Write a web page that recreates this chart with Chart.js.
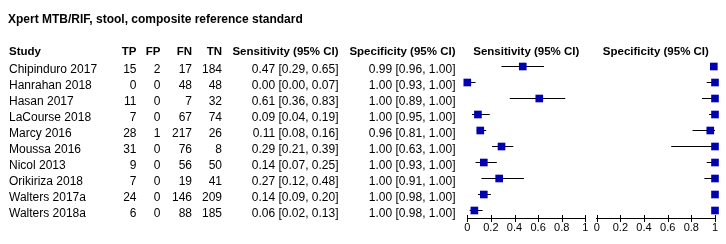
<!DOCTYPE html>
<html><head><meta charset="utf-8">
<script src="https://cdn.jsdelivr.net/npm/chart.js@4/dist/chart.umd.min.js"></script>
<style>
html,body{margin:0;padding:0;background:#fff;}
#wrap{position:relative;width:726px;height:244px;overflow:hidden;font-family:"Liberation Sans",Arial,sans-serif;color:#000;background:#fff;}
canvas{position:absolute;left:0;top:0;}
.t{position:absolute;white-space:nowrap;font-size:12px;line-height:16px;height:16px;}
</style></head><body>
<div id="wrap">
<canvas id="cs" width="726" height="244"></canvas>
<canvas id="cp" width="726" height="244"></canvas>
</div>
<script>
const title = "Xpert MTB/RIF, stool, composite reference standard";
const headers = ["Study", "TP", "FP", "FN", "TN", "Sensitivity (95% CI)", "Specificity (95% CI)"];
const plotHeaders = ["Sensitivity (95% CI)", "Specificity (95% CI)"];
const studies = ["Chipinduro 2017","Hanrahan 2018","Hasan 2017","LaCourse 2018","Marcy 2016","Moussa 2016","Nicol 2013","Orikiriza 2018","Walters 2017a","Walters 2018a"];
const TP = [15,0,11,7,28,31,9,7,24,6];
const FP = [2,0,0,0,1,0,0,0,0,0];
const FN = [17,48,7,67,217,76,56,19,146,88];
const TN = [184,48,32,74,26,8,50,41,209,185];
const sens   = [0.47,0.00,0.61,0.09,0.11,0.29,0.14,0.27,0.14,0.06];
const sensLo = [0.29,0.00,0.36,0.04,0.08,0.21,0.07,0.12,0.09,0.02];
const sensHi = [0.65,0.07,0.83,0.19,0.16,0.39,0.25,0.48,0.20,0.13];
const spec   = [0.99,1.00,1.00,1.00,0.96,1.00,1.00,1.00,1.00,1.00];
const specLo = [0.96,0.93,0.89,0.95,0.81,0.63,0.93,0.91,0.98,0.98];
const specHi = [1.00,1.00,1.00,1.00,1.00,1.00,1.00,1.00,1.00,1.00];
const xTicks = [0,0.2,0.4,0.6,0.8,1];
const xTickLabels = ["0","0.2","0.4","0.6","0.8","1"];

const fmt = v => v.toFixed(2);
const ciText = (e,l,h) => fmt(e) + " [" + fmt(l) + ", " + fmt(h) + "]";

const crossTicks = {
  id: 'crossTicks',
  afterDraw(chart) {
    const xs = chart.scales.x, ctx = chart.ctx;
    const y = Math.round(xs.top) ;
    ctx.save();
    ctx.strokeStyle = '#000';
    ctx.lineWidth = 1;
    ctx.beginPath();
    xs.ticks.forEach(t => {
      const x = Math.round(xs.getPixelForValue(t.value)) + 0.5;
      ctx.moveTo(x, y - 4);
      ctx.lineTo(x, y + 3);
    });
    ctx.stroke();
    ctx.restore();
  }
};

function makeChart(id, est, lo, hi, padL, padR) {
  const datasets = [{
    data: est.map((v, i) => ({x: v, y: i})),
    pointStyle: 'rect',
    pointRadius: 5.4,
    backgroundColor: '#0000B4',
    borderColor: '#0000B4',
    borderWidth: 0,
    clip: false
  }];
  studies.forEach((s, i) => {
    datasets.push({
      data: [{x: lo[i], y: i}, {x: hi[i], y: i}],
      showLine: true,
      borderColor: '#000',
      borderWidth: 1,
      pointRadius: 0,
      clip: false
    });
  });
  return new Chart(document.getElementById(id), {
    type: 'scatter',
    data: {datasets},
    plugins: [crossTicks],
    options: {
      responsive: false,
      devicePixelRatio: 1,
      animation: false,
      events: [],
      layout: {padding: {left: padL, right: padR, top: 66.5, bottom: 0}},
      plugins: {legend: {display: false}, tooltip: {enabled: false}},
      scales: {
        x: {
          type: 'linear', min: 0, max: 1, position: 'bottom',
          afterBuildTicks: s => { s.ticks = xTicks.map(v => ({value: v})); },
          afterFit: s => { s.height = 25.5; },
          ticks: {
            autoSkip: false, maxRotation: 0, padding: 3,
            color: '#000',
            font: {family: '"Liberation Sans", Arial, sans-serif', size: 11},
            callback: (v, i) => xTickLabels[i]
          },
          grid: {display: true, drawOnChartArea: false, drawTicks: false},
          border: {display: true, color: '#000', width: 1}
        },
        y: {type: 'linear', reverse: true, min: 0, max: 9.5, display: false}
      }
    }
  });
}

const chS = makeChart('cs', sens, sensLo, sensHi, 467.3, 726 - 585.3);
const chP = makeChart('cp', spec, specLo, specHi, 596.7, 726 - 715);

const wrap = document.getElementById('wrap');
function addText(txt, x, top, align, bold, size) {
  const d = document.createElement('div');
  d.className = 't';
  d.textContent = txt;
  d.style.top = top + 'px';
  if (size) d.style.fontSize = size + 'px';
  if (bold) d.style.fontWeight = 'bold';
  if (align === 'right') { d.style.left = (x - 300) + 'px'; d.style.width = '300px'; d.style.textAlign = 'right'; }
  else if (align === 'center') { d.style.left = (x - 150) + 'px'; d.style.width = '300px'; d.style.textAlign = 'center'; }
  else { d.style.left = x + 'px'; }
  wrap.appendChild(d);
}

addText(title, 8, 10.5, 'left', true, 12);
const colX = [9, 136.5, 160.5, 192, 222, 338.5, 455.5];
const colAlign = ['left','right','right','right','right','right','right'];
headers.forEach((h, j) => addText(h, colX[j], 43, colAlign[j], true, 11.5));
const ys = chS.scales.y;
studies.forEach((s, i) => {
  const top = ys.getPixelForValue(i) - 5.5;
  const vals = [s, TP[i], FP[i], FN[i], TN[i], ciText(sens[i], sensLo[i], sensHi[i]), ciText(spec[i], specLo[i], specHi[i])];
  vals.forEach((v, j) => addText(String(v), colX[j], top, colAlign[j], false, 12));
});
[chS, chP].forEach((c, k) => {
  const a = c.chartArea;
  addText(plotHeaders[k], (a.left + a.right) / 2, 43, 'center', true, 11.5);
});
</script>
</body></html>
